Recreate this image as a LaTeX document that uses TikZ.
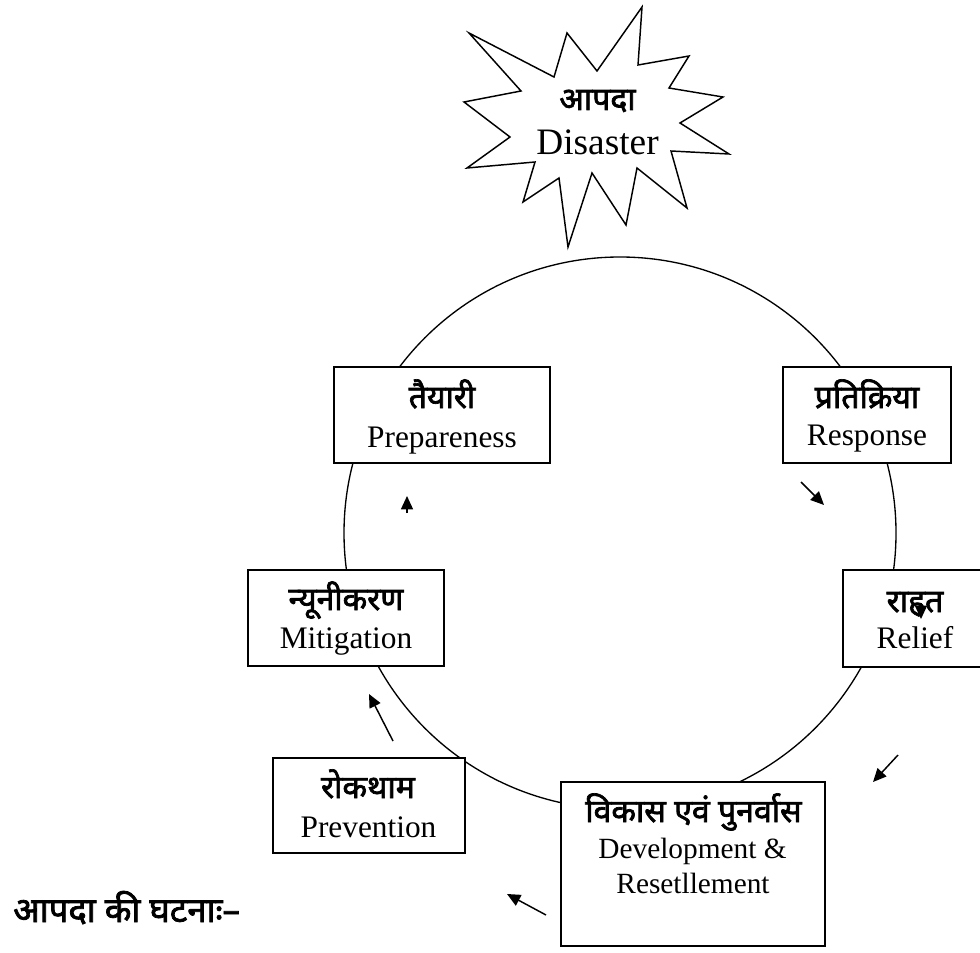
\documentclass[tikz,border=0pt]{standalone}
\usepackage{fontspec}
\setmainfont{Liberation Serif}
\newfontfamily\hindi[Script=Devanagari,AutoFakeBold=2.2]{Noto Sans}
\usetikzlibrary{arrows.meta}
\begin{document}
\begin{tikzpicture}[x=0.75pt,y=-0.75pt,
        box/.style={draw,line width=1.1pt,inner sep=0pt},
        hi/.style={font=\hindi\bfseries\fontsize{24}{27}\selectfont,anchor=base,inner sep=0pt},
        en/.style={font=\fontsize{23.5}{26}\selectfont,anchor=base,inner sep=0pt},
        small/.style={font=\fontsize{22}{25}\selectfont,anchor=base,inner sep=0pt},
        tip/.style={line width=1.1pt,-{Triangle[length=10pt,width=9pt]}}]
            \useasboundingbox (0,0) rectangle (980,952);
            \def\burst{(469,33) -- (554,77) -- (567,33) -- (597,71) -- (642,7) -- (638,65)
                -- (689,56) -- (669,88) -- (723,97) -- (680,123) -- (729,154) -- (671,151)
                -- (687,208) -- (637,168) -- (626,225) -- (592,173) -- (568,247) -- (559,178)
                -- (523,202) -- (535,162) -- (467,168) -- (510,137) -- (464,102) -- (521,91) -- cycle}
            \draw [line width=1.1pt] \burst ;
            \node [hi] (burstHi) at (597.5,110) {आपदा};
            \node [en,font=\fontsize{28}{30}\selectfont] (burstEn) at (597.5,155) {Disaster};
            % cycle
            \draw [line width=1pt] (620,533) circle (207pt);
            \node [box,fill=white,minimum width=216*0.75pt,minimum height=96*0.75pt] (prep) at (442,415) {};
            \node [hi] (prepHi) at (442,408) {तैयारी};
            \node [en] (prepEn) at (442,447) {Prepareness};
            \node [box,fill=white,minimum width=168*0.75pt,minimum height=96*0.75pt] (resp) at (867,415) {};
            \node [hi] (respHi) at (867,408) {प्रतिक्रिया};
            \node [en] (respEn) at (867,445) {Response};
            \node [box,fill=white,minimum width=140*0.75pt,minimum height=97*0.75pt] (relief) at (913,618.5) {};
            \node [hi] (reliefHi) at (915,612) {राहत};
            \node [en] (reliefEn) at (915,648) {Relief};
            \node [box,fill=white,minimum width=196*0.75pt,minimum height=96*0.75pt] (mit) at (346,618) {};
            \node [hi] (mitHi) at (346,610) {न्यूनीकरण};
            \node [en] (mitEn) at (346,648) {Mitigation};
            \node [box,fill=white,minimum width=192*0.75pt,minimum height=95*0.75pt] (prev) at (369,805.5) {};
            \node [hi] (prevHi) at (368,798) {रोकथाम};
            \node [en] (prevEn) at (368.5,837) {Prevention};
            \node [box,fill=white,minimum width=264*0.75pt,minimum height=164*0.75pt] (dev) at (693,864) {};
            \node [hi] (devHi) at (693.5,822) {विकास एवं पुनर्वास};
            \node [small] (devEn) at (692.5,858) {Development \&};
            \node [small] (devEnB) at (693,893) {Resetllement};
            % arrows
            \coordinate (a1) at (407,513); \coordinate (b1) at (407,496);
            \coordinate (a2) at (801,482); \coordinate (b2) at (824,505);
            \coordinate (a3) at (921,603); \coordinate (b3) at (921,619);
            \coordinate (a4) at (898,755); \coordinate (b4) at (873,782);
            \coordinate (a5) at (546,915); \coordinate (b5) at (507,894);
            \coordinate (a6) at (393,741); \coordinate (b6) at (369,694);
            \foreach \i in {1,...,6}
                \draw [tip] (a\i) -- (b\i);
            \node [hi,anchor=base west,font=\hindi\bfseries\fontsize{26}{30}\selectfont] (event) at (13,922) {आपदा की घटनाः–};
        \end{tikzpicture}
\end{document}
